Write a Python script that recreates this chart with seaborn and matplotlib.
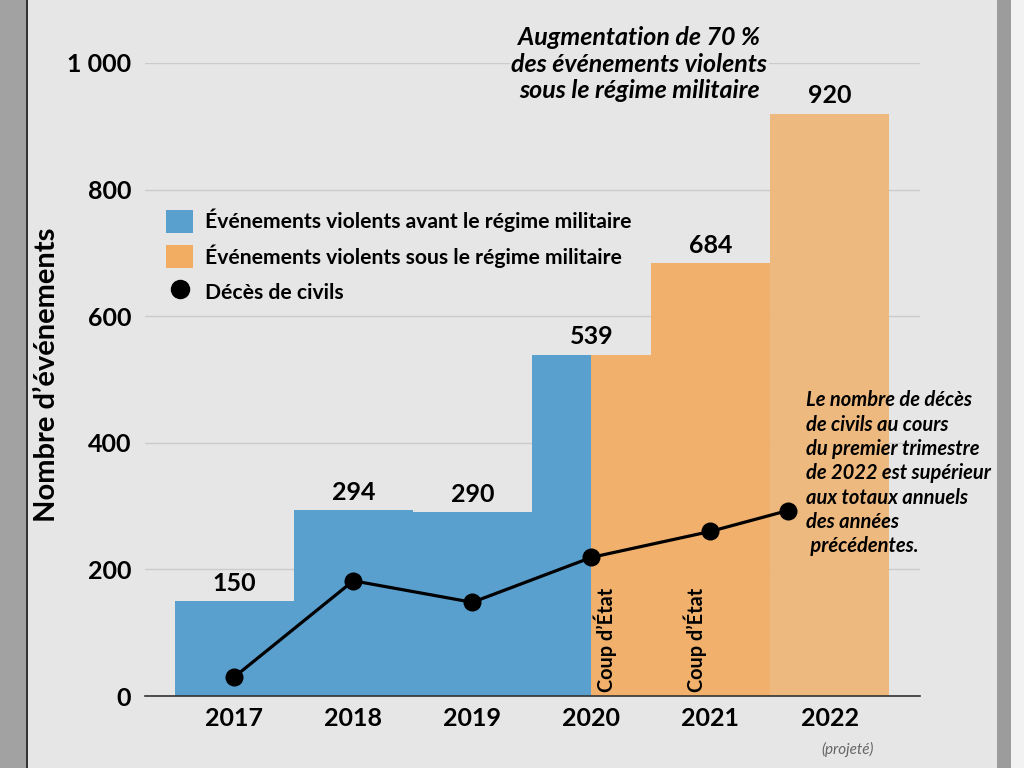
import numpy as np
import pandas as pd
import matplotlib
matplotlib.use("Agg")
import matplotlib.pyplot as plt
import seaborn as sns
from matplotlib.patches import Patch, Rectangle
from matplotlib.lines import Line2D
from matplotlib.ticker import FuncFormatter

# Violent events per year (bars) and civilian deaths (line)
years = [2017, 2018, 2019, 2020, 2021, 2022]
year_labels = ["2017", "2018", "2019", "2020", "2021", "2022"]
events = [150, 294, 290, 539, 684, 920]
death_x = [2017, 2018, 2019, 2020, 2021, 2021.65]
deaths = [30, 182, 148, 219, 260, 293]
coup_x = [2020.0, 2020.75]
coup_year = 2020

lab_before = "Événements violents avant le régime militaire"
lab_after = "Événements violents sous le régime militaire"
lab_deaths = "Décès de civils"

blue = "#5aa0cf"
orange = "#f2ad62"
orange_proj = "#efb676"
bg = "#e6e6e6"

# each year is split in two halves so that 2020 can be half blue, half orange
rows = []
for y, v in zip(years, events):
    for half in (-0.25, 0.25):
        x = y + half
        if x < coup_year:
            period = "avant"
        elif y == 2022:
            period = "projete"
        else:
            period = "sous"
        rows.append({"x": x, "events": v, "period": period})
bars = pd.DataFrame(rows)
line = pd.DataFrame({"x": death_x, "deaths": deaths})

sns.set_theme(style="white")
plt.rcParams["font.family"] = ["Lato", "DejaVu Sans"]
for key in ["text.color", "axes.labelcolor", "xtick.color", "ytick.color"]:
    plt.rcParams[key] = "black"

fig = plt.figure(figsize=(10.24, 7.68), dpi=100, facecolor=bg)
ax = fig.add_axes([145 / 1024, 1 - 696 / 768, 775 / 1024, 633 / 768])
ax.set_facecolor(bg)

sns.barplot(data=bars, x="x", y="events", hue="period", native_scale=True,
            dodge=False, width=1.0, palette={"avant": blue, "sous": orange, "projete": orange_proj},
            linewidth=0, saturation=1, legend=False, ax=ax, zorder=2)
for p in ax.patches:
    if p.get_x() >= coup_year - 0.01:
        p.set_alpha(0.92)

sns.lineplot(data=line, x="x", y="deaths", color="black", lw=2.3, marker="o",
             markersize=13, markeredgewidth=0, ax=ax, zorder=4)

ax.set_xlim(2016.25, 2022.76)
ax.set_ylim(0, 1000)
ax.set_xticks(years)
ax.set_xticklabels(year_labels, fontsize=18, fontweight="bold")
ax.set_yticks([0, 200, 400, 600, 800, 1000])
ax.yaxis.set_major_formatter(FuncFormatter(lambda v, _: f"{int(v):,}".replace(",", " ")))
ax.tick_params(axis="y", labelsize=18, length=0, pad=10)
ax.tick_params(axis="x", length=0, pad=8)
for lbl in ax.get_yticklabels():
    lbl.set_fontweight("bold")
ax.set_xlabel("")
ax.set_ylabel("Nombre d’événements", fontsize=21, fontweight="bold", va="center")
ax.yaxis.set_label_coords(-0.126, 0.507)
ax.yaxis.grid(True, color="#cbcbcb", lw=1)
ax.set_axisbelow(True)
for s in ["left", "right", "top"]:
    ax.spines[s].set_visible(False)
ax.spines["bottom"].set_color("#333333")
ax.spines["bottom"].set_linewidth(1.2)

# value labels above bars
for y, v in zip(years, events):
    ax.text(y, v + 10, str(v), ha="center", va="bottom", fontsize=18, fontweight="bold")

# coup markers
for cx in coup_x:
    ax.text(cx + 0.02, 6, "Coup d’État", rotation=90, ha="left", va="bottom",
            fontsize=14.3, fontweight="bold")

ax.text(2022.15, -72, "(projeté)", ha="center", va="top", fontsize=11,
        style="italic", color="#666666")

ax.text(2020.4, 1058, "Augmentation de 70 %\ndes événements violents\nsous le régime militaire",
        ha="center", va="top", fontsize=18, fontweight="bold", style="italic",
        linespacing=1.17, bbox=dict(facecolor=bg, edgecolor="none", pad=1))

ax.text(2021.8, 483, "Le nombre de décès\nde civils au cours\ndu premier trimestre\n"
        "de 2022 est supérieur\naux totaux annuels\ndes années\n précédentes.",
        ha="left", va="top", fontsize=14.5, fontweight="bold", style="italic",
        linespacing=1.27)

handles = [
    Patch(facecolor=blue, edgecolor="none", label=lab_before),
    Patch(facecolor=orange, edgecolor="none", label=lab_after),
    Line2D([], [], color="black", marker="o", markersize=13, lw=0, label=lab_deaths),
]
leg = ax.legend(handles=handles, loc="upper left", bbox_to_anchor=(147 / 1024, 1 - 190 / 768),
                bbox_transform=fig.transFigure, frameon=False, fontsize=15.2,
                handlelength=1.3, handleheight=1.3, handletextpad=0.55, labelspacing=0.55)
for t in leg.get_texts():
    t.set_fontweight("bold")

# side strips of the page
strips = [(0, 26, "#a2a2a2"), (26, 2, "#333333"), (997, 14, "#9c9c9c"), (1011, 13, "#f2f2f2")]
for x0, w, c in strips:
    fig.patches.append(Rectangle((x0 / 1024, 0), w / 1024, 1, transform=fig.transFigure,
                                 facecolor=c, edgecolor="none", zorder=-5))

fig.savefig("out.png", dpi=100, facecolor=bg)
